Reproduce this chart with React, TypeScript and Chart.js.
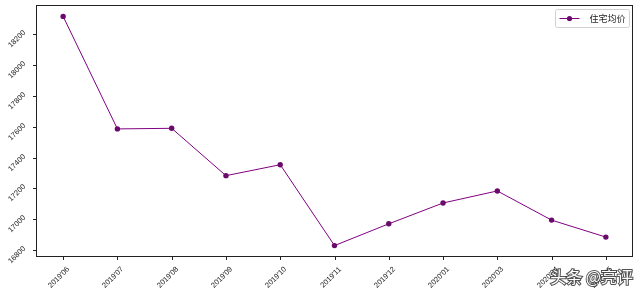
import React, { useEffect, useRef } from "react";
import { Chart, registerables } from "chart.js";

Chart.register(...registerables);

const categories = ["2019'06", "2019'07", "2019'08", "2019'09", "2019'10", "2019'11", "2019'12", "2020'01", "2020'03", "2020'04", "2020'05"];
const prices = [18315, 17586, 17590, 17283, 17354, 16830, 16971, 17106, 17184, 16995, 16885];
const yTickValues = [16800, 17000, 17200, 17400, 17600, 17800, 18000, 18200];
const seriesName = "住宅均价";
const watermark = "头条 @亮评";

const LINE_COLOR = "#800080";
const MARKER_COLOR = "#6a0a6a";
const AXIS_COLOR = "#222222";

const mplAxes = {
  id: "mplAxes",
  afterDraw(chart: any) {
    const { ctx, chartArea: a, scales } = chart;
    const xs = scales.x;
    const ys = scales.y;
    ctx.save();
    ctx.strokeStyle = AXIS_COLOR;
    ctx.lineWidth = 1;
    const L = Math.round(a.left) + 0.5;
    const T = Math.round(a.top) + 0.5;
    const R = Math.round(a.right) - 0.5;
    const B = Math.round(a.bottom) - 0.5;
    ctx.strokeRect(L, T, R - L, B - T);

    ctx.fillStyle = AXIS_COLOR;
    ctx.font = "7.5px 'Liberation Sans', Arial, sans-serif";
    ctx.textAlign = "center";
    ctx.textBaseline = "middle";

    yTickValues.forEach((v) => {
      const py = Math.round(ys.getPixelForValue(v)) + 0.5;
      ctx.beginPath();
      ctx.moveTo(L - 3.5, py);
      ctx.lineTo(L, py);
      ctx.stroke();
      ctx.save();
      ctx.translate(L - 19.5, py + 4.5);
      ctx.rotate(-Math.PI / 4);
      ctx.fillText(String(v), 0, 0);
      ctx.restore();
    });

    categories.forEach((c, i) => {
      const px = Math.round(xs.getPixelForValue(i)) + 0.5;
      ctx.beginPath();
      ctx.moveTo(px, B);
      ctx.lineTo(px, B + 3.5);
      ctx.stroke();
      ctx.save();
      ctx.translate(px - 4.5, B + 21);
      ctx.rotate(-Math.PI / 4);
      ctx.fillText(c, 0, 0);
      ctx.restore();
    });

    // legend
    const lx = R - 77;
    const ly = T + 4;
    const lw = 74;
    const lh = 18;
    ctx.fillStyle = "rgba(255,255,255,0.85)";
    ctx.strokeStyle = "#d0d0d0";
    ctx.lineWidth = 1;
    ctx.beginPath();
    const r = 2;
    ctx.moveTo(lx + r, ly);
    ctx.lineTo(lx + lw - r, ly);
    ctx.quadraticCurveTo(lx + lw, ly, lx + lw, ly + r);
    ctx.lineTo(lx + lw, ly + lh - r);
    ctx.quadraticCurveTo(lx + lw, ly + lh, lx + lw - r, ly + lh);
    ctx.lineTo(lx + r, ly + lh);
    ctx.quadraticCurveTo(lx, ly + lh, lx, ly + lh - r);
    ctx.lineTo(lx, ly + r);
    ctx.quadraticCurveTo(lx, ly, lx + r, ly);
    ctx.fill();
    ctx.stroke();
    const my = ly + lh / 2;
    ctx.strokeStyle = LINE_COLOR;
    ctx.beginPath();
    ctx.moveTo(lx + 4, my);
    ctx.lineTo(lx + 24, my);
    ctx.stroke();
    ctx.fillStyle = MARKER_COLOR;
    ctx.beginPath();
    ctx.arc(lx + 14, my, 2.6, 0, Math.PI * 2);
    ctx.fill();
    ctx.fillStyle = "#222";
    ctx.font = "9px 'Noto Sans CJK SC', sans-serif";
    ctx.textAlign = "left";
    ctx.fillText(seriesName, lx + 34, my + 0.5);

    // watermark
    ctx.font = "16px 'Noto Sans CJK SC', sans-serif";
    ctx.textAlign = "right";
    ctx.textBaseline = "middle";
    ctx.lineWidth = 2;
    ctx.strokeStyle = "rgba(50,50,50,0.85)";
    ctx.strokeText(watermark, 633, 277);
    ctx.fillStyle = "#ffffff";
    ctx.fillText(watermark, 633, 277);
    ctx.restore();
  },
};

export default function App() {
  const ref = useRef<HTMLCanvasElement | null>(null);
  useEffect(() => {
    if (!ref.current) return;
    const chart = new Chart(ref.current, {
      type: "line",
      data: {
        labels: categories,
        datasets: [
          {
            label: seriesName,
            data: prices,
            borderColor: LINE_COLOR,
            borderWidth: 1,
            backgroundColor: MARKER_COLOR,
            pointBackgroundColor: MARKER_COLOR,
            pointBorderColor: MARKER_COLOR,
            pointRadius: 2.7,
            pointBorderWidth: 0,
            pointStyle: "circle",
            tension: 0,
            fill: false,
          },
        ],
      },
      options: {
        responsive: false,
        animation: false,
        devicePixelRatio: 1,
        layout: { padding: { left: 36, top: 5, right: 7, bottom: 37 } },
        plugins: { legend: { display: false }, tooltip: { enabled: false } },
        scales: {
          x: { type: "category", offset: true, display: false },
          y: { type: "linear", display: false, min: 16756, max: 18389 },
        },
      },
      plugins: [mplAxes],
    });
    return () => chart.destroy();
  }, []);
  return (
    <div style={{ position: "absolute", left: 0, top: 0, width: 640, height: 294, background: "#fff" }}>
      <canvas ref={ref} width={640} height={294} />
    </div>
  );
}
